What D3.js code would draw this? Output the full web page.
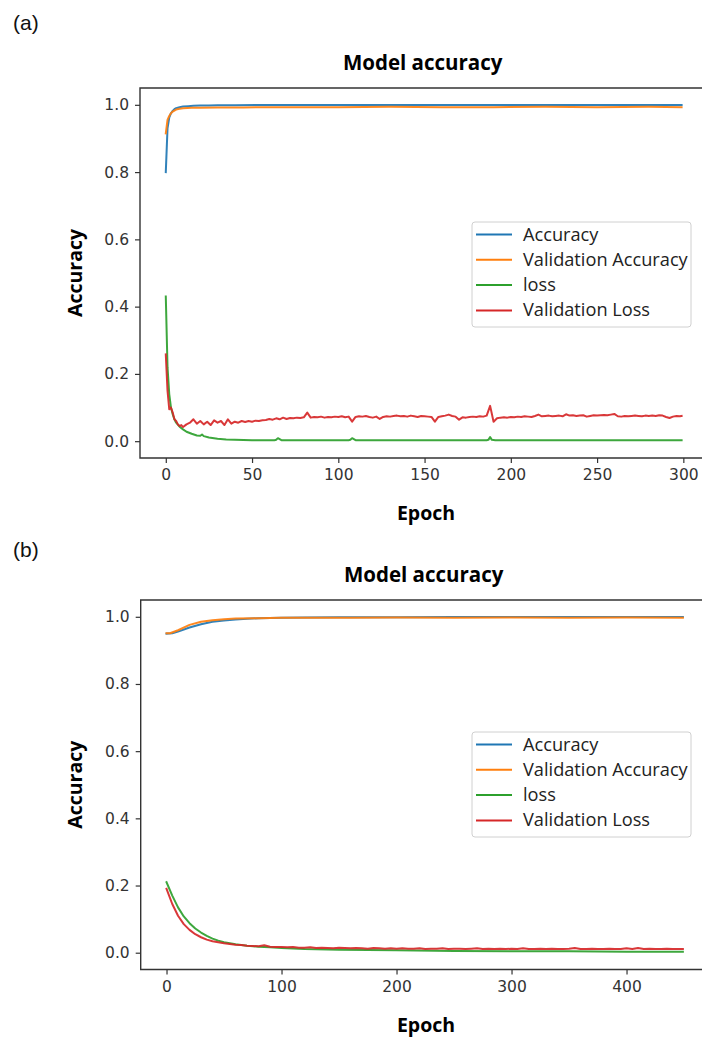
<!DOCTYPE html>
<html>
<head>
<meta charset="utf-8">
<script src="https://cdn.jsdelivr.net/npm/d3@7"></script>
<style>
  body { margin: 0; background: #fff; }
  svg { display: block; }
</style>
</head>
<body>
<svg id="fig" width="702" height="1038"></svg>
<script>
// ---- Shared labels ----
const seriesNames = ["Accuracy", "Validation Accuracy", "loss", "Validation Loss"];
const seriesColors = ["#1f77b4", "#ff7f0e", "#2ca02c", "#d62728"];
const yTickValues = [0.0, 0.2, 0.4, 0.6, 0.8, 1.0];
const xTickValuesA = [0, 50, 100, 150, 200, 250, 300];
const xTickValuesB = [0, 100, 200, 300, 400];

// ---- Run (a): 300 epochs ----
const accEpochsA = [0,1,2,3,4,5,6,8,10,13,16,20,25,30,40,60,80,100,140,180,220,260,299];
const accA       = [0.80,0.93,0.962,0.975,0.982,0.987,0.990,0.993,0.995,0.996,0.997,0.998,0.998,0.999,0.999,0.9995,0.9996,0.9997,0.9997,0.9998,0.9998,0.9998,0.9998];

const valAccEpochsA = [0,1,2,3,4,5,6,8,10,15,20,30,45,60,80,100,130,160,190,220,250,280,299];
const valAccA       = [0.915,0.955,0.967,0.975,0.980,0.983,0.986,0.988,0.990,0.991,0.991,0.992,0.992,0.993,0.993,0.993,0.994,0.993,0.993,0.994,0.993,0.994,0.993];

const lossEpochsA = [0,1,2,3,4,5,6,8,10,12,15,18,20,21,22,25,30,35,40,50,60,63,64,65,67,80,100,106,107,108,110,140,170,186,187,188,189,191,220,260,299];
const lossA       = [0.43,0.22,0.14,0.10,0.08,0.065,0.055,0.043,0.035,0.028,0.022,0.017,0.016,0.020,0.015,0.011,0.007,0.005,0.004,0.003,0.003,0.003,0.004,0.009,0.003,0.003,0.003,0.003,0.004,0.009,0.003,0.003,0.003,0.003,0.004,0.012,0.004,0.003,0.003,0.003,0.003];

const valLossEpochsA = [0,1,2,3,4,5,6,7,8,9,10,
  12,14,16,18,20,22,24,26,28,30,32,34,36,38,40,42,44,46,48,50,52,54,56,58,
  60,62,64,66,68,70,72,74,76,78,80,82,84,86,88,90,92,94,96,98,
  100,102,104,106,108,110,112,114,116,118,120,122,124,126,128,130,132,134,136,138,
  140,142,144,146,148,150,152,154,156,158,160,162,164,166,168,170,172,174,176,178,
  180,182,184,186,188,190,192,194,196,198,200,202,204,206,208,210,212,214,216,218,
  220,222,224,226,228,230,232,234,236,238,240,242,244,246,248,250,252,254,256,258,
  260,262,264,266,268,270,272,274,276,278,280,282,284,286,288,290,292,294,296,298,299];
const valLossA = [0.258,0.15,0.095,0.10,0.085,0.065,0.06,0.05,0.045,0.048,0.042,
  0.05,0.055,0.065,0.052,0.06,0.05,0.058,0.048,0.062,0.055,0.06,0.048,0.065,0.052,0.058,0.055,0.06,0.057,0.06,0.058,0.061,0.06,0.062,0.063,
  0.066,0.064,0.068,0.065,0.07,0.066,0.069,0.068,0.07,0.069,0.071,0.085,0.07,0.072,0.071,0.073,0.07,0.072,0.071,0.073,
  0.072,0.074,0.071,0.073,0.058,0.072,0.074,0.073,0.075,0.072,0.07,0.073,0.066,0.072,0.074,0.073,0.075,0.076,0.074,0.075,
  0.073,0.076,0.074,0.072,0.075,0.074,0.073,0.072,0.058,0.072,0.074,0.076,0.079,0.075,0.073,0.064,0.071,0.07,0.072,0.073,
  0.072,0.074,0.073,0.076,0.105,0.058,0.068,0.07,0.071,0.07,0.072,0.071,0.073,0.072,0.074,0.073,0.072,0.075,0.079,0.074,
  0.075,0.076,0.074,0.075,0.076,0.074,0.08,0.076,0.077,0.075,0.076,0.077,0.073,0.075,0.077,0.076,0.077,0.078,0.077,0.079,
  0.081,0.074,0.073,0.075,0.074,0.075,0.076,0.075,0.074,0.076,0.075,0.076,0.075,0.077,0.076,0.072,0.069,0.073,0.075,0.074,0.075];

// ---- Run (b): 450 epochs ----
const accEpochsB = [0,5,10,20,30,40,50,60,70,80,100,120,150,200,250,300,350,400,449];
const accB       = [0.950,0.951,0.956,0.968,0.978,0.985,0.989,0.992,0.994,0.996,0.997,0.998,0.9985,0.999,0.9993,0.9995,0.9996,0.9997,0.9997];

const valAccEpochsB = [0,3,10,20,30,40,50,60,80,100,130,160,200,250,300,350,400,449];
const valAccB       = [0.951,0.951,0.960,0.976,0.985,0.990,0.993,0.995,0.996,0.997,0.997,0.997,0.998,0.997,0.998,0.997,0.998,0.997];

const lossEpochsB = [0,5,10,15,20,25,30,35,40,45,50,60,70,80,90,100,120,150,200,250,300,350,400,449];
const lossB       = [0.21,0.17,0.135,0.108,0.088,0.072,0.06,0.05,0.042,0.036,0.031,0.025,0.021,0.018,0.016,0.014,0.011,0.009,0.007,0.005,0.004,0.004,0.003,0.003];

const valLossEpochsB = [0,5,10,15,20,25,30,35,40,45,50,55,60,65,70,75,80,85,90,95,
  100,105,110,115,120,125,130,135,140,145,150,155,160,165,170,175,180,185,190,195,
  200,205,210,215,220,225,230,235,240,245,250,255,260,265,270,275,280,285,290,295,
  300,305,310,315,320,325,330,335,340,345,350,355,360,365,370,375,380,385,390,395,
  400,405,410,415,420,425,430,435,440,445,449];
const valLossB = [0.19,0.145,0.11,0.085,0.068,0.055,0.046,0.039,0.034,0.031,0.028,0.026,0.024,0.023,0.021,0.020,0.019,0.022,0.018,0.017,
  0.017,0.016,0.017,0.015,0.015,0.016,0.014,0.015,0.014,0.013,0.015,0.014,0.013,0.014,0.013,0.012,0.014,0.013,0.012,0.013,
  0.012,0.013,0.012,0.012,0.013,0.011,0.012,0.012,0.013,0.011,0.012,0.012,0.011,0.012,0.013,0.011,0.012,0.011,0.012,0.011,
  0.012,0.011,0.013,0.011,0.011,0.012,0.011,0.012,0.011,0.011,0.012,0.014,0.011,0.011,0.012,0.011,0.011,0.012,0.011,0.011,
  0.013,0.011,0.014,0.011,0.012,0.011,0.011,0.012,0.011,0.011,0.011];

const svg = d3.select("#fig");

function drawPanel(p) {
  const x = d3.scaleLinear().domain(p.xDomain).range([p.left, p.right]);
  const y = d3.scaleLinear().domain([-0.05, 1.05]).range([p.bottom, p.top]);
  const g = svg.append("g");

  // panel tag
  g.append("text")
    .attr("x", 13).attr("y", p.tagY)
    .attr("font-family", "Liberation Sans, Arial, sans-serif")
    .attr("font-size", 21).attr("fill", "#111")
    .text(p.tag);

  // title
  g.append("text")
    .attr("x", (p.left + p.right) / 2 - 1).attr("y", p.top - 18)
    .attr("text-anchor", "middle")
    .attr("font-family", "Open Sans, sans-serif").attr("font-weight", "bold")
    .attr("font-size", 20.5).attr("fill", "#000")
    .text("Model accuracy");

  // series lines
  const line = d3.line().x(d => x(d[0])).y(d => y(d[1]));
  p.series.forEach((s, i) => {
    const pts = s.epochs.map((e, k) => [e, s.values[k]]);
    g.append("path")
      .datum(pts)
      .attr("d", line)
      .attr("fill", "none")
      .attr("stroke", seriesColors[i])
      .attr("stroke-width", 2)
      .attr("stroke-linejoin", "round")
      .attr("stroke-linecap", "square")
      .attr("opacity", 0.92);
  });

  // axes
  const yAxis = d3.axisLeft(y).tickValues(yTickValues).tickFormat(d3.format(".1f")).tickSize(5).tickPadding(6);
  const xAxis = d3.axisBottom(x).tickValues(p.xTicks).tickFormat(d3.format("d")).tickSize(5).tickPadding(6);
  const ya = g.append("g").attr("transform", `translate(${p.left},0)`).call(yAxis);
  const xa = g.append("g").attr("transform", `translate(0,${p.bottom})`).call(xAxis);
  [ya, xa].forEach(a => {
    a.select(".domain").remove();
    a.selectAll(".tick line").attr("stroke", "#333").attr("stroke-width", 1.2);
    a.selectAll(".tick text")
      .attr("font-family", "DejaVu Sans, sans-serif")
      .attr("font-size", 15.5).attr("fill", "#333");
  });

  // frame (left, top, bottom spines)
  g.append("path")
    .attr("d", `M${p.right},${p.top}H${p.left}V${p.bottom}H${p.right}`)
    .attr("fill", "none").attr("stroke", "#333").attr("stroke-width", 1.4);

  // axis titles
  g.append("text")
    .attr("transform", `translate(82,${(p.top + p.bottom) / 2}) rotate(-90)`)
    .attr("text-anchor", "middle")
    .attr("font-family", "Open Sans, sans-serif").attr("font-weight", "bold")
    .attr("font-size", 19.5).attr("fill", "#000")
    .text("Accuracy");
  g.append("text")
    .attr("x", 426).attr("y", p.bottom + 62)
    .attr("text-anchor", "middle")
    .attr("font-family", "Open Sans, sans-serif").attr("font-weight", "bold")
    .attr("font-size", 19.5).attr("fill", "#000")
    .text("Epoch");

  // legend
  const lg = g.append("g").attr("transform", `translate(472,${p.legendTop})`);
  lg.append("rect")
    .attr("x", 0).attr("y", 0).attr("width", 219).attr("height", 105)
    .attr("rx", 3).attr("fill", "#fff").attr("fill-opacity", 0.8)
    .attr("stroke", "#d0d0d0").attr("stroke-width", 1);
  seriesNames.forEach((name, i) => {
    const cy = 12.5 + i * 25.3;
    lg.append("line")
      .attr("x1", 4).attr("x2", 40).attr("y1", cy).attr("y2", cy)
      .attr("stroke", seriesColors[i]).attr("stroke-width", 2);
    lg.append("text")
      .attr("x", 51).attr("y", cy + 6)
      .attr("font-family", "Open Sans, sans-serif")
      .attr("font-size", 18.2).attr("fill", "#222")
      .text(name);
  });
}

drawPanel({
  tag: "(a)", tagY: 30,
  left: 140, right: 707.4, top: 88, bottom: 458,
  xDomain: [-14.95, 313.95], xTicks: xTickValuesA,
  legendTop: 222,
  series: [
    { epochs: accEpochsA, values: accA },
    { epochs: valAccEpochsA, values: valAccA },
    { epochs: lossEpochsA, values: lossA },
    { epochs: valLossEpochsA, values: valLossA }
  ]
});

drawPanel({
  tag: "(b)", tagY: 557,
  left: 140.7, right: 708.7, top: 600, bottom: 969.5,
  xDomain: [-22.45, 471.45], xTicks: xTickValuesB,
  legendTop: 732,
  series: [
    { epochs: accEpochsB, values: accB },
    { epochs: valAccEpochsB, values: valAccB },
    { epochs: lossEpochsB, values: lossB },
    { epochs: valLossEpochsB, values: valLossB }
  ]
});
</script>
</body>
</html>
